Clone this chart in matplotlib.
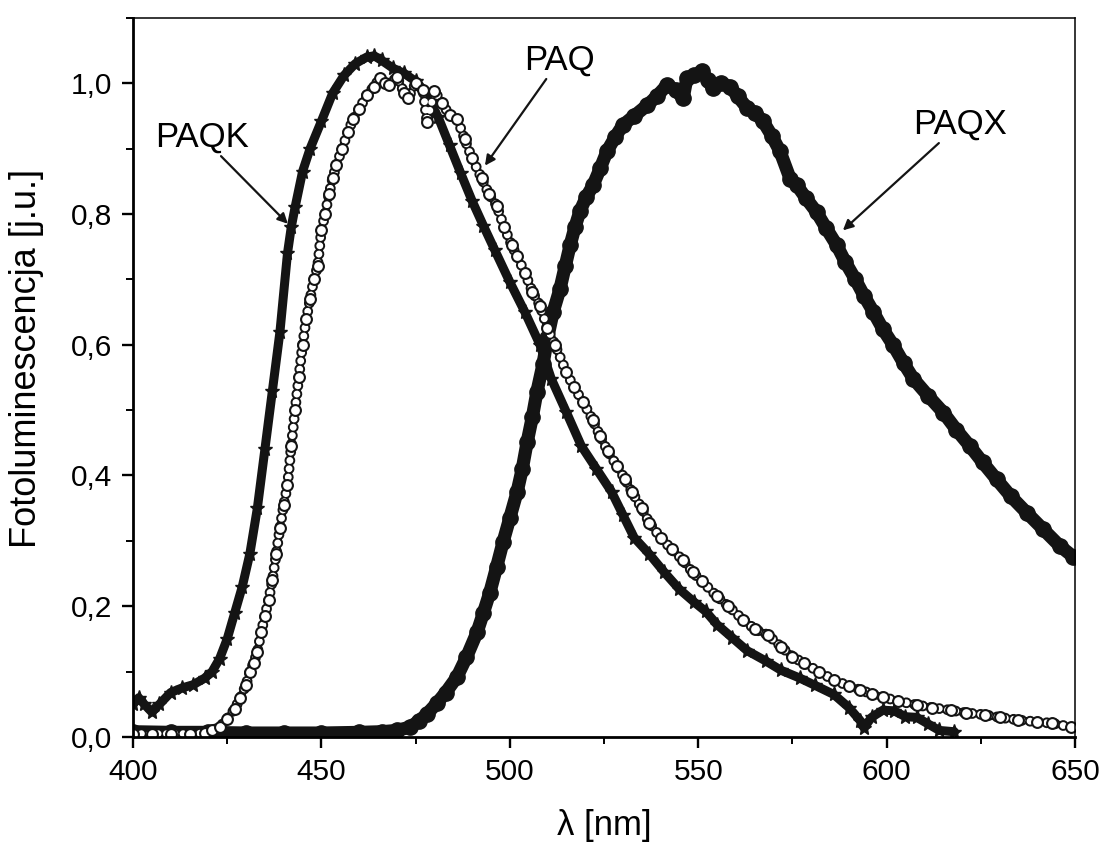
import numpy as np
import matplotlib
matplotlib.use('Agg')
import matplotlib.pyplot as plt
from matplotlib.ticker import MultipleLocator, FuncFormatter

plt.rcParams['font.family'] = ['Liberation Sans', 'DejaVu Sans']
plt.rcParams['lines.scale_dashes'] = False

# %% values (wavelength in nm, normalised PL)
paqk_x = [400, 401.5, 403, 405, 407, 410, 413, 416, 419, 421, 423, 425, 427, 429, 431, 433,
          435, 437, 439, 441, 442, 443, 445, 447, 450, 453, 456, 459, 462, 464, 466, 469,
          472, 475, 478, 481, 484, 487, 490, 493, 496, 500, 504, 508, 511, 515, 519, 523,
          527, 530, 533, 537, 541, 545, 549, 552, 555, 559, 563, 568, 572, 577, 581, 586,
          590, 593, 594, 596, 599, 602, 605, 608, 611, 614, 618]
paqk_y = [0.05, 0.06, 0.05, 0.038, 0.05, 0.068, 0.075, 0.08, 0.09, 0.10, 0.12, 0.15, 0.19,
          0.23, 0.28, 0.35, 0.44, 0.53, 0.62, 0.74, 0.78, 0.81, 0.865, 0.9, 0.942, 0.985,
          1.012, 1.03, 1.04, 1.042, 1.035, 1.023, 1.015, 1.003, 0.98, 0.948, 0.905, 0.862,
          0.82, 0.782, 0.745, 0.696, 0.65, 0.6, 0.548, 0.497, 0.445, 0.41, 0.375, 0.34,
          0.305, 0.28, 0.252, 0.226, 0.206, 0.192, 0.172, 0.152, 0.132, 0.116, 0.102, 0.09,
          0.079, 0.065, 0.045, 0.025, 0.014, 0.03, 0.041, 0.04, 0.031, 0.03, 0.02, 0.01, 0.008]

paq_x = [400, 405, 410, 415, 419, 421, 423, 425, 427, 428.5, 430, 431, 432, 433, 434, 435,
         436, 437, 438, 439, 440, 441, 442, 443, 444, 445, 446, 447, 448, 449, 450, 451,
         452, 453, 454, 455.5, 457, 458.5, 460, 462, 464, 465.5, 467, 468, 470, 472, 473,
         475, 477, 478, 480, 482, 484, 486, 488, 490, 492.5, 494.5, 496.5, 498.5, 500.5,
         502, 504, 506, 508, 510, 512, 515, 517, 519.5, 522, 524, 526, 528.5, 530.5, 532.5,
         535, 537, 540, 543, 546, 548.5, 551, 555, 558, 562, 565, 568.5, 572, 575, 578, 582,
         586, 590, 593, 596, 599, 603, 608, 612, 617, 621, 626, 630, 635, 640, 644, 649]
paq_y = [0.005, 0.005, 0.005, 0.005, 0.006, 0.01, 0.015, 0.028, 0.043, 0.06, 0.08, 0.1,
         0.113, 0.13, 0.16, 0.185, 0.21, 0.24, 0.28, 0.32, 0.355, 0.385, 0.445, 0.5, 0.55,
         0.6, 0.64, 0.67, 0.7, 0.72, 0.775, 0.8, 0.83, 0.855, 0.875, 0.9, 0.925, 0.946,
         0.96, 0.982, 0.995, 1.008, 1.0, 0.997, 1.01, 0.985, 0.977, 1.0, 0.99, 0.94, 0.988,
         0.97, 0.951, 0.946, 0.915, 0.885, 0.855, 0.83, 0.813, 0.78, 0.752, 0.735, 0.71,
         0.681, 0.66, 0.625, 0.6, 0.558, 0.535, 0.512, 0.485, 0.46, 0.437, 0.414, 0.395,
         0.374, 0.35, 0.328, 0.305, 0.287, 0.27, 0.252, 0.238, 0.215, 0.2, 0.179, 0.165,
         0.156, 0.138, 0.123, 0.113, 0.1, 0.087, 0.078, 0.072, 0.066, 0.061, 0.055, 0.049,
         0.045, 0.041, 0.037, 0.034, 0.03, 0.026, 0.023, 0.021, 0.015]

paqx_x = [400, 410, 420, 430, 440, 450, 460, 466, 470, 473.5, 476, 478, 480.7, 483, 486,
          488.5, 491.3, 493, 494.7, 496.5, 498.2, 500, 501.9, 503.3, 504.6, 506, 507.2,
          508.8, 510, 511.5, 513.3, 514.7, 516, 517.3, 518.6, 520.3, 522.1, 524, 525.8, 528,
          530, 533, 536.4, 539, 541.7, 544, 546, 547, 549, 551, 552.5, 553.9, 556, 558.4,
          560.5, 563, 565, 567.2, 569.5, 571.7, 574.4, 576.2, 578.5, 581.4, 584, 586.8, 589,
          591.6, 594, 596.5, 599, 601.8, 604.5, 607.1, 611, 615.1, 618.5, 622.1, 625.5,
          629.2, 633, 637.2, 641.5, 646, 649.5]
paqx_y = [0.008, 0.007, 0.007, 0.006, 0.006, 0.006, 0.007, 0.008, 0.01, 0.015, 0.025, 0.035,
          0.052, 0.068, 0.092, 0.122, 0.16, 0.19, 0.221, 0.26, 0.298, 0.335, 0.374, 0.41,
          0.451, 0.49, 0.528, 0.57, 0.61, 0.65, 0.685, 0.72, 0.752, 0.78, 0.804, 0.826,
          0.844, 0.87, 0.896, 0.918, 0.936, 0.95, 0.966, 0.98, 0.997, 0.99, 0.977, 1.008,
          1.012, 1.018, 1.005, 0.992, 1.0, 0.995, 0.98, 0.962, 0.955, 0.942, 0.92, 0.896,
          0.854, 0.844, 0.825, 0.803, 0.778, 0.752, 0.727, 0.701, 0.675, 0.65, 0.624, 0.599,
          0.572, 0.548, 0.522, 0.496, 0.47, 0.445, 0.42, 0.394, 0.368, 0.343, 0.318, 0.292,
          0.276]

# %%
ink = '#141414'
fig = plt.figure(figsize=(11.02, 8.44), dpi=100)
ax = fig.add_axes([0.1207, 0.1268, 0.8548, 0.852])

# PAQK - stars
ax.plot(paqk_x, paqk_y, color=ink, lw=6.5, solid_joinstyle='round', solid_capstyle='round')
ax.plot(paqk_x, paqk_y, ls='', marker='*', ms=11, color=ink)

# PAQX - filled circles
ax.plot(paqx_x, paqx_y, color=ink, lw=9.5, solid_joinstyle='round', solid_capstyle='round')
ax.plot(paqx_x, paqx_y, ls='', marker='o', ms=11, color=ink)

# PAQ - open circles (ring chain along the curve + the read points)
ax.plot(paq_x, paq_y, color=ink, lw=7.8, ls=(0, (0.01, 6)), dash_capstyle='round')
ax.plot(paq_x, paq_y, color='white', lw=5.0, ls=(0, (0.01, 6)), dash_capstyle='round')
ax.plot(paq_x, paq_y, ls='', marker='o', ms=7.8, mfc='white', mec=ink, mew=1.5)

ax.set_xlim(400, 650)
ax.set_ylim(0, 1.1)
ax.xaxis.set_major_locator(MultipleLocator(50))
ax.xaxis.set_minor_locator(MultipleLocator(25))
ax.yaxis.set_major_locator(MultipleLocator(0.2))
ax.yaxis.set_minor_locator(MultipleLocator(0.1))
ax.yaxis.set_major_formatter(FuncFormatter(lambda v, p: ('%.1f' % v).replace('.', ',')))

ax.tick_params(which='major', direction='out', length=8, width=1.7, labelsize=21.5, pad=7)
ax.tick_params(which='minor', direction='out', length=5, width=1.4)
ax.spines['left'].set_linewidth(2)
ax.spines['bottom'].set_linewidth(2)
ax.spines['top'].set_linewidth(1.1)
ax.spines['right'].set_linewidth(1.1)

ax.set_xlabel('λ [nm]', fontsize=25, labelpad=17)
ax.set_ylabel('Fotoluminescencja [j.u.]', fontsize=26)
ax.yaxis.set_label_coords(-0.094, 0.527)

arrow = dict(arrowstyle='-|>', color=ink, lw=1.6, mutation_scale=15, shrinkA=0, shrinkB=0)
ax.annotate('PAQK', xy=(441.1, 0.785), xytext=(418.3, 0.918), fontsize=25,
            ha='center', va='center', arrowprops=arrow)
ax.annotate('PAQ', xy=(493.4, 0.874), xytext=(513.3, 1.036), fontsize=25,
            ha='center', va='center', arrowprops=arrow)
ax.annotate('PAQX', xy=(588.4, 0.775), xytext=(619.5, 0.938), fontsize=25,
            ha='center', va='center', arrowprops=arrow)

fig.savefig('out.png', dpi=100)
